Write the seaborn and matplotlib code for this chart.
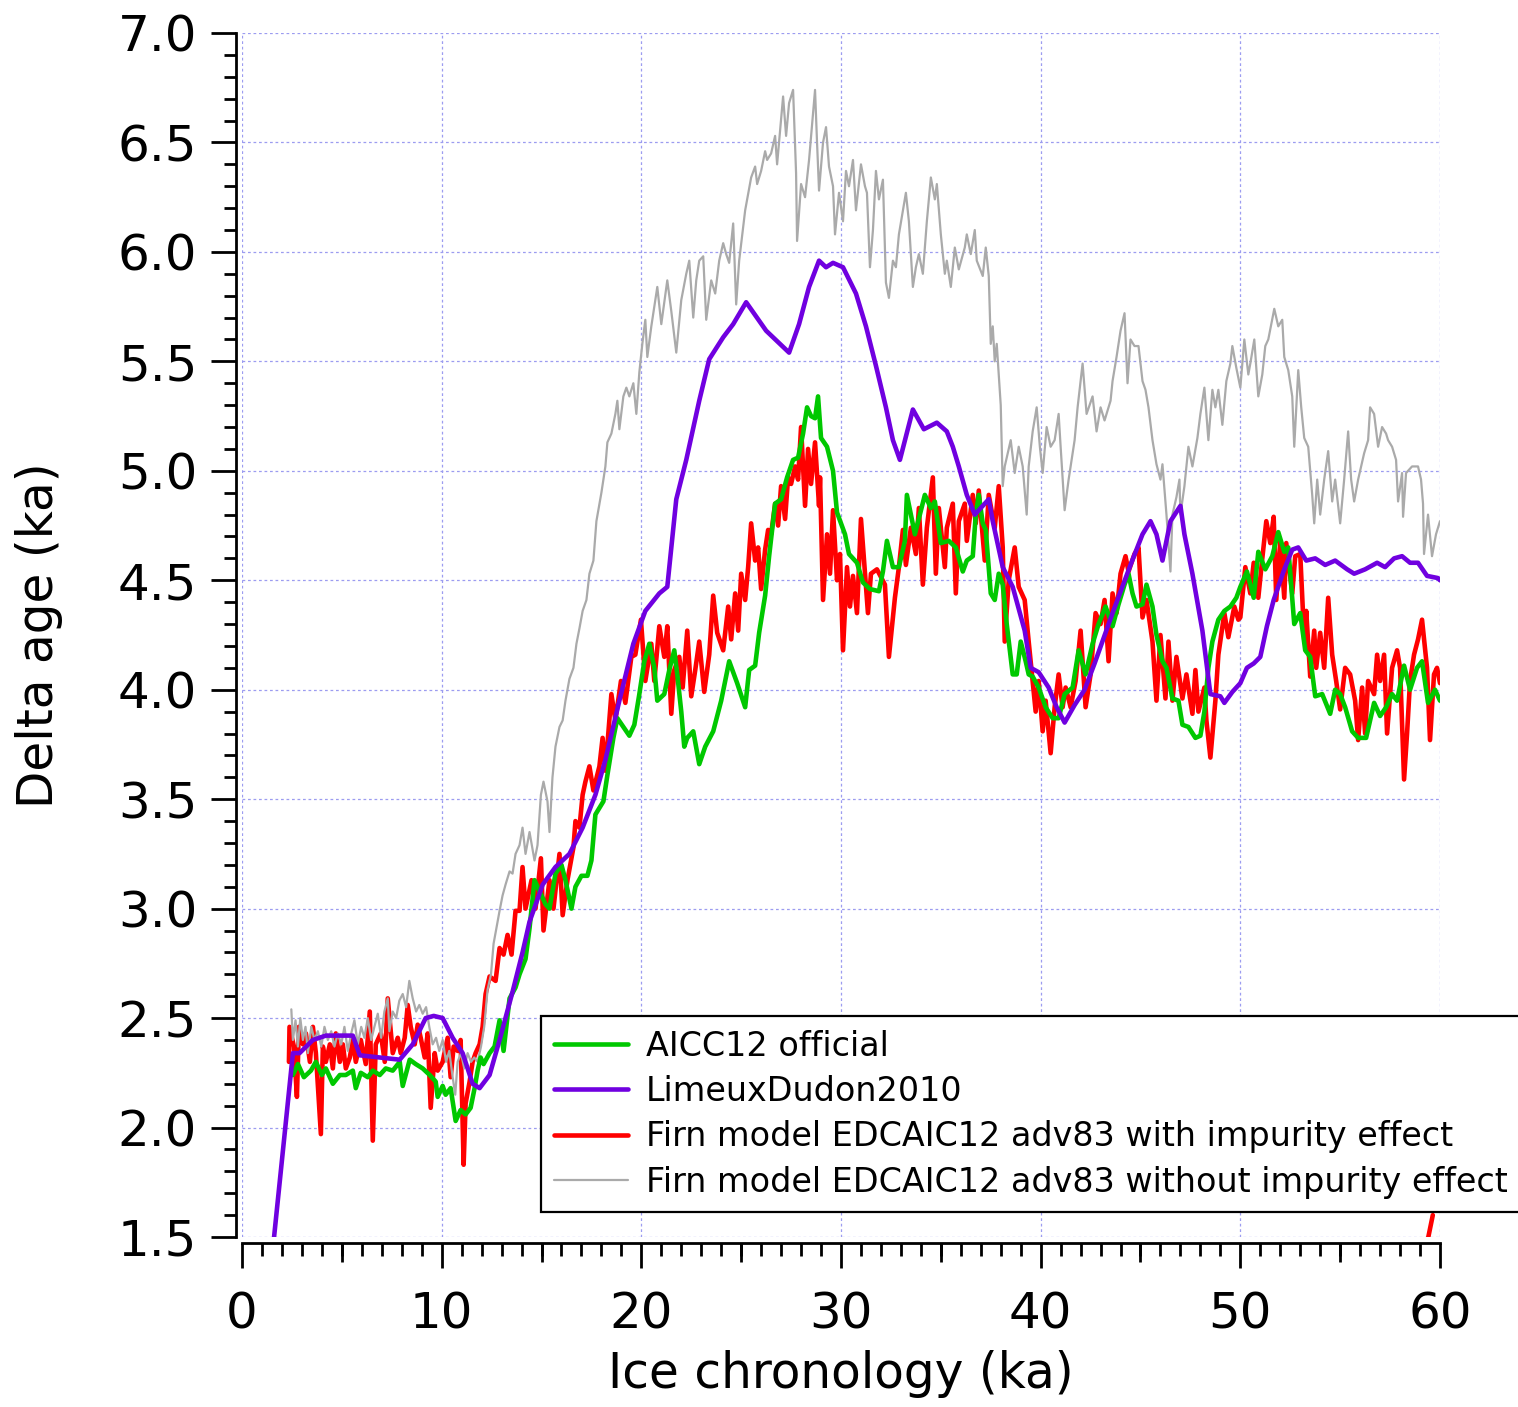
import numpy as np
import pandas as pd
import matplotlib
matplotlib.use("Agg")
import matplotlib.pyplot as plt
from matplotlib.ticker import MultipleLocator, FixedLocator
import seaborn as sns

# ---------------- data ----------------
green_x = [2.55, 2.8, 3.1, 3.45, 3.7, 4.0, 4.2, 4.55, 4.9, 5.2, 5.55, 5.7, 5.95, 6.3, 6.55, 6.9, 7.2, 7.55, 7.9, 8.05,
           8.4, 8.7, 9.05, 9.4, 9.7, 9.8, 10.05, 10.2, 10.45, 10.7, 10.95, 11.2, 11.45, 11.65, 11.8, 11.95, 12.1, 12.4,
           12.65, 12.9, 13.1, 13.4, 13.7, 13.9, 14.2, 14.4, 14.65, 14.9, 15.2, 15.4, 15.7, 16.0, 16.2, 16.5, 16.7, 17.0,
           17.3, 17.5, 17.7, 18.1, 18.3, 18.6, 18.8, 19.1, 19.4, 19.65, 19.9, 20.15, 20.4, 20.65, 20.8, 21.15, 21.4,
           21.65, 21.8, 22.0, 22.15, 22.3, 22.6, 22.9, 23.2, 23.6, 24.0, 24.4, 24.8, 25.2, 25.4, 25.7, 25.9, 26.2, 26.4,
           26.7, 27.0, 27.3, 27.6, 27.85, 28.1, 28.3, 28.5, 28.7, 28.85, 29.0, 29.3, 29.6, 29.8, 30.0, 30.2, 30.4, 30.8,
           31.1, 31.45, 31.9, 32.1, 32.3, 32.6, 32.9, 33.2, 33.3, 33.7, 34.2, 34.5, 34.7, 35.0, 35.4, 35.75, 36.1, 36.3,
           36.6, 36.75, 36.9, 37.1, 37.25, 37.5, 37.7, 37.9, 38.1, 38.3, 38.6, 38.8, 39.0, 39.25, 39.4, 39.6, 39.9,
           40.25, 40.6, 40.9, 41.2, 41.6, 41.9, 42.25, 42.6, 42.9, 43.25, 43.6, 43.9, 44.2, 44.4, 44.6, 44.8, 45.1,
           45.3, 45.6, 45.8, 46.1, 46.3, 46.6, 46.9, 47.1, 47.4, 47.75, 48.0, 48.2, 48.4, 48.6, 48.9, 49.2, 49.5, 49.8,
           50.0, 50.33, 50.67, 50.9, 51.25, 51.6, 51.9, 52.2, 52.4, 52.7, 53.0, 53.25, 53.5, 53.75, 54.1, 54.5, 54.75,
           55.0, 55.25, 55.6, 55.9, 56.3, 56.7, 57.0, 57.3, 57.6, 57.85, 58.2, 58.5, 58.85, 59.1, 59.4, 59.75, 60.0]
green_y = [2.24, 2.29, 2.23, 2.26, 2.30, 2.24, 2.27, 2.20, 2.24, 2.24, 2.26, 2.18, 2.25, 2.23, 2.26, 2.24, 2.27, 2.26,
           2.30, 2.19, 2.31, 2.29, 2.27, 2.24, 2.21, 2.14, 2.19, 2.15, 2.18, 2.03, 2.08, 2.06, 2.09, 2.18, 2.26, 2.32,
           2.29, 2.34, 2.37, 2.49, 2.35, 2.59, 2.64, 2.70, 2.77, 2.91, 3.13, 3.08, 3.02, 3.00, 3.16, 3.20, 3.13, 3.00,
           3.10, 3.15, 3.15, 3.22, 3.43, 3.49, 3.61, 3.78, 3.87, 3.83, 3.79, 3.84, 3.98, 4.13, 4.21, 4.10, 3.95, 3.98,
           4.09, 4.18, 4.07, 3.90, 3.74, 3.78, 3.81, 3.66, 3.74, 3.81, 3.95, 4.13, 4.03, 3.92, 4.09, 4.11, 4.26, 4.43,
           4.61, 4.85, 4.87, 4.97, 5.05, 5.06, 5.17, 5.29, 5.25, 5.24, 5.34, 5.15, 5.11, 5.00, 4.81, 4.76, 4.71, 4.62,
           4.58, 4.49, 4.46, 4.45, 4.54, 4.68, 4.56, 4.56, 4.68, 4.89, 4.71, 4.89, 4.83, 4.86, 4.67, 4.68, 4.65, 4.54,
           4.59, 4.61, 4.80, 4.89, 4.76, 4.73, 4.44, 4.41, 4.53, 4.48, 4.30, 4.07, 4.07, 4.22, 4.13, 4.07, 4.06, 4.01,
           3.92, 3.87, 3.87, 3.98, 4.01, 4.18, 4.07, 4.21, 4.30, 4.38, 4.29, 4.39, 4.48, 4.53, 4.44, 4.38, 4.39, 4.48,
           4.38, 4.25, 4.13, 4.10, 3.96, 3.95, 3.84, 3.83, 3.78, 3.79, 3.90, 4.10, 4.22, 4.32, 4.36, 4.38, 4.42,
           4.47, 4.54, 4.42, 4.63, 4.55, 4.61, 4.72, 4.63, 4.65, 4.30, 4.35, 4.18, 4.15, 3.97, 3.98, 3.89, 4.00,
           3.98, 3.92, 3.81, 3.78, 3.78, 3.94, 3.88, 3.92, 3.98, 3.95, 4.11, 4.00, 4.10, 4.13, 3.94, 4.00, 3.95]

purple_x = [1.55, 2.55, 2.88, 3.55, 4.2, 5.55, 5.9, 7.9, 8.55, 9.2, 9.6, 10.05, 10.55, 11.05, 11.55, 11.9, 12.4, 12.9,
            13.55, 14.05, 14.4, 15.06, 15.7, 16.4, 17.06, 17.7, 18.2, 18.9, 19.6, 20.2, 20.9, 21.3, 21.75, 22.25, 22.9,
            23.4, 24.1, 24.6, 25.25, 26.25, 27.4, 27.9, 28.4, 28.9, 29.25, 29.6, 30.1, 30.75, 31.25, 31.75, 32.25, 32.6,
            32.95, 33.6, 34.15, 34.8, 35.3, 35.6, 35.9, 36.3, 36.7, 37.4, 37.6, 38.1, 38.6, 39.2, 39.5, 39.9, 40.4, 40.8,
            41.2, 41.7, 42.2, 42.7, 43.6, 44.5, 45.1, 45.5, 45.8, 46.1, 46.5, 47.0, 47.2, 47.6, 48.1, 48.5, 49.0, 49.2,
            49.6, 50.0, 50.33, 50.67, 51.0, 51.33, 51.67, 52.2, 52.6, 52.9, 53.3, 53.75, 54.25, 54.75, 55.35, 55.7,
            56.25, 56.85, 57.25, 57.7, 58.1, 58.5, 58.9, 59.35, 59.9, 60.0]
purple_y = [1.45, 2.34, 2.34, 2.40, 2.42, 2.42, 2.33, 2.31, 2.38, 2.50, 2.51, 2.50, 2.41, 2.34, 2.20, 2.18, 2.24, 2.40,
            2.62, 2.80, 2.94, 3.11, 3.19, 3.25, 3.37, 3.52, 3.68, 3.95, 4.21, 4.36, 4.44, 4.47, 4.87, 5.05, 5.32, 5.51,
            5.61, 5.67, 5.77, 5.64, 5.54, 5.67, 5.84, 5.96, 5.93, 5.95, 5.93, 5.81, 5.66, 5.48, 5.29, 5.14, 5.05, 5.28,
            5.19, 5.22, 5.18, 5.11, 5.02, 4.89, 4.80, 4.87, 4.77, 4.56, 4.47, 4.27, 4.10, 4.08, 4.01, 3.92, 3.85, 3.93,
            4.00, 4.12, 4.35, 4.57, 4.71, 4.77, 4.71, 4.59, 4.77, 4.84, 4.71, 4.53, 4.27, 3.98, 3.97, 3.94, 3.99, 4.03,
            4.10, 4.12, 4.15, 4.29, 4.41, 4.55, 4.64, 4.65, 4.59, 4.60, 4.57, 4.59, 4.55, 4.53, 4.55, 4.58, 4.56, 4.60,
            4.61, 4.58, 4.58, 4.52, 4.51, 4.50]

red_x = [2.35, 2.38, 2.6, 2.75, 2.85, 3.05, 3.2, 3.4, 3.55, 3.7, 3.95, 4.05, 4.2, 4.4, 4.55, 4.7, 4.9, 5.05, 5.2, 5.4,
         5.55, 5.7, 5.95, 6.2, 6.4, 6.55, 6.7, 6.95, 7.15, 7.3, 7.55, 7.8, 7.95, 8.15, 8.3, 8.45, 8.65, 8.8, 8.95, 9.15,
         9.3, 9.45, 9.65, 9.8, 10.05, 10.3, 10.45, 10.6, 10.8, 10.95, 11.1, 11.2, 11.4, 11.55, 11.7, 11.9, 12.05, 12.2,
         12.4, 12.7, 12.9, 13.1, 13.3, 13.5, 13.7, 13.9, 14.05, 14.2, 14.5, 14.7, 14.97, 15.1, 15.4, 15.6, 15.9, 16.06,
         16.3, 16.6, 16.7, 16.9, 17.06, 17.2, 17.4, 17.6, 17.9, 18.06, 18.2, 18.5, 18.7, 18.98, 19.2, 19.5, 19.7, 19.98,
         20.2, 20.5, 20.65, 20.9, 21.15, 21.3, 21.5, 21.65, 21.9, 22.07, 22.3, 22.5, 22.7, 22.9, 23.15, 23.4, 23.6, 23.8,
         24.1, 24.35, 24.5, 24.7, 24.85, 25.0, 25.2, 25.35, 25.5, 25.7, 25.85, 26.0, 26.2, 26.35, 26.5, 26.7, 26.85,
         27.0, 27.2, 27.35, 27.5, 27.7, 27.85, 28.0, 28.2, 28.35, 28.5, 28.7, 28.9, 28.95, 29.1, 29.3, 29.45, 29.6,
         29.8, 29.95, 30.1, 30.3, 30.45, 30.6, 30.8, 31.0, 31.35, 31.5, 31.8, 32.2, 32.4, 32.7, 32.9, 33.1, 33.25,
         33.5, 33.75, 33.9, 34.1, 34.3, 34.6, 34.75, 34.9, 35.2, 35.3, 35.6, 35.75, 35.9, 36.2, 36.3, 36.6, 36.75,
         36.9, 37.2, 37.4, 37.7, 37.9, 38.1, 38.2, 38.4, 38.7, 38.9, 39.2, 39.4, 39.6, 39.75, 39.9, 40.1, 40.25, 40.5,
         40.7, 40.9, 41.1, 41.25, 41.5, 41.75, 42.0, 42.25, 42.5, 42.75, 43.0, 43.2, 43.4, 43.6, 43.8, 44.0, 44.25,
         44.4, 44.7, 44.9, 45.1, 45.3, 45.6, 45.8, 46.0, 46.25, 46.4, 46.6, 46.8, 47.1, 47.3, 47.6, 47.75, 47.9, 48.2,
         48.3, 48.5, 48.75, 48.9, 49.2, 49.4, 49.7, 49.9, 50.0, 50.25, 50.5, 50.67, 50.9, 51.1, 51.3, 51.5, 51.67,
         51.8, 52.0, 52.2, 52.3, 52.6, 52.75, 53.0, 53.2, 53.3, 53.5, 53.7, 53.8, 54.0, 54.2, 54.4, 54.6, 54.8, 55.0,
         55.25, 55.5, 55.75, 55.9, 56.1, 56.25, 56.4, 56.7, 56.85, 57.0, 57.2, 57.35, 57.6, 57.85, 58.0, 58.2, 58.35,
         58.5, 58.7, 58.9, 59.1, 59.35, 59.5, 59.7, 59.85, 60.0]
red_y = [2.30, 2.46, 2.37, 2.14, 2.46, 2.38, 2.43, 2.30, 2.46, 2.34, 1.97, 2.37, 2.30, 2.38, 2.27, 2.43, 2.30, 2.38,
         2.27, 2.32, 2.40, 2.30, 2.40, 2.29, 2.53, 1.94, 2.38, 2.43, 2.30, 2.59, 2.34, 2.41, 2.34, 2.41, 2.56, 2.46,
         2.38, 2.47, 2.41, 2.32, 2.43, 2.09, 2.34, 2.26, 2.30, 2.41, 2.23, 2.37, 2.35, 2.40, 1.83, 2.11, 2.21, 2.30,
         2.34, 2.38, 2.46, 2.61, 2.69, 2.67, 2.82, 2.79, 2.88, 2.79, 2.99, 2.99, 3.19, 3.00, 3.13, 3.00, 3.23, 2.90,
         3.13, 3.00, 3.25, 2.97, 3.13, 3.28, 3.40, 3.37, 3.52, 3.58, 3.65, 3.54, 3.65, 3.78, 3.63, 3.98, 3.86, 4.04,
         3.94, 4.15, 4.16, 4.32, 4.04, 4.21, 4.04, 4.29, 4.15, 4.29, 3.89, 4.09, 4.15, 4.01, 4.27, 3.97, 4.09, 4.22,
         3.99, 4.16, 4.43, 4.26, 4.18, 4.38, 4.23, 4.44, 4.27, 4.53, 4.41, 4.56, 4.76, 4.59, 4.65, 4.46, 4.64, 4.73,
         4.71, 4.85, 4.75, 4.93, 4.78, 4.97, 4.94, 5.02, 4.96, 5.20, 4.84, 5.10, 4.94, 5.13, 4.84, 4.97, 4.41, 4.71,
         4.53, 4.82, 4.50, 4.62, 4.18, 4.56, 4.38, 4.52, 4.35, 4.78, 4.35, 4.53, 4.55, 4.48, 4.15, 4.42, 4.56, 4.73,
         4.57, 4.74, 4.62, 4.83, 4.48, 4.74, 4.97, 4.53, 4.83, 4.56, 4.74, 4.85, 4.44, 4.77, 4.85, 4.68, 4.89, 4.76,
         4.91, 4.59, 4.89, 4.74, 4.93, 4.65, 4.22, 4.50, 4.65, 4.47, 4.41, 4.22, 4.04, 3.90, 4.04, 3.81, 3.95, 3.71,
         3.92, 4.07, 3.92, 4.01, 3.92, 4.04, 4.27, 3.92, 4.07, 4.35, 4.30, 4.41, 4.13, 4.44, 4.35, 4.53, 4.61, 4.54,
         4.62, 4.65, 4.33, 4.41, 4.22, 3.95, 4.25, 3.96, 4.22, 3.95, 4.15, 3.96, 4.07, 3.89, 4.09, 3.90, 4.01, 3.86,
         3.69, 3.95, 4.16, 4.35, 4.24, 4.38, 4.32, 4.33, 4.56, 4.44, 4.58, 4.42, 4.60, 4.77, 4.67, 4.79, 4.41, 4.68,
         4.42, 4.67, 4.44, 4.61, 4.62, 4.23, 4.36, 4.06, 4.27, 4.10, 4.26, 4.10, 4.42, 4.16, 4.04, 3.91, 4.10, 4.07,
         3.95, 3.77, 4.01, 3.80, 4.04, 3.98, 4.16, 4.04, 4.16, 3.80, 4.10, 4.18, 4.10, 3.59, 3.80, 4.04, 4.16, 4.23,
         4.32, 4.10, 3.77, 4.07, 4.10, 4.03]
red_tail_x = [59.37, 59.64]
red_tail_y = [1.48, 1.60]

gray_x = [2.47, 2.55, 2.68, 2.8, 2.92, 3.05, 3.18, 3.3, 3.47, 3.63, 3.8, 3.97, 4.13, 4.3, 4.47, 4.63, 4.8, 4.97, 5.13,
          5.3, 5.47, 5.63, 5.8, 5.97, 6.13, 6.3, 6.47, 6.63, 6.8, 6.97, 7.13, 7.3, 7.38, 7.55, 7.72, 7.88, 8.05, 8.22,
          8.38, 8.55, 8.72, 8.88, 9.05, 9.22, 9.38, 9.55, 9.72, 9.88, 10.05, 10.22, 10.38, 10.55, 10.68, 10.8, 10.97,
          11.13, 11.3, 11.47, 11.63, 11.8, 11.97, 12.13, 12.3, 12.47, 12.6, 12.9, 13.05, 13.2, 13.4, 13.55, 13.7, 13.9,
          14.05, 14.2, 14.4, 14.65, 14.8, 14.97, 15.1, 15.3, 15.4, 15.55, 15.7, 15.9, 16.06, 16.2, 16.4, 16.6, 16.75,
          16.9, 17.06, 17.25, 17.4, 17.6, 17.75, 18.0, 18.2, 18.3, 18.5, 18.7, 18.8, 18.9, 19.1, 19.25, 19.4, 19.6,
          19.75, 19.9, 20.05, 20.2, 20.3, 20.5, 20.8, 21.0, 21.3, 21.5, 21.75, 22.0, 22.25, 22.4, 22.6, 22.75, 22.9,
          23.1, 23.25, 23.5, 23.7, 23.9, 24.1, 24.25, 24.4, 24.6, 24.75, 24.9, 25.2, 25.3, 25.5, 25.7, 25.8, 26.0, 26.2,
          26.3, 26.5, 26.7, 26.8, 27.1, 27.25, 27.4, 27.6, 27.75, 27.8, 28.0, 28.2, 28.4, 28.7, 28.8, 28.9, 29.1, 29.25,
          29.4, 29.6, 29.7, 29.9, 30.1, 30.25, 30.4, 30.6, 30.75, 31.0, 31.2, 31.3, 31.45, 31.6, 31.75, 31.9, 32.1,
          32.25, 32.4, 32.6, 32.75, 32.9, 33.1, 33.25, 33.4, 33.6, 33.75, 33.9, 34.1, 34.3, 34.5, 34.7, 34.8, 35.0,
          35.2, 35.3, 35.5, 35.7, 35.9, 36.2, 36.3, 36.5, 36.7, 36.8, 37.1, 37.25, 37.4, 37.5, 37.6, 37.7, 37.8, 38.0,
          38.1, 38.2, 38.35, 38.5, 38.7, 38.9, 39.1, 39.3, 39.4, 39.6, 39.8, 39.96, 40.1, 40.3, 40.5, 40.7, 40.9, 41.0,
          41.2, 41.4, 41.7, 41.85, 42.1, 42.3, 42.6, 42.8, 43.0, 43.2, 43.5, 43.6, 43.8, 44.0, 44.2, 44.35, 44.5, 44.7,
          44.9, 45.1, 45.25, 45.4, 45.6, 45.8, 46.0, 46.1, 46.3, 46.5, 46.6, 46.8, 46.95, 47.0, 47.2, 47.4, 47.6, 47.85,
          48.0, 48.2, 48.4, 48.6, 48.75, 48.9, 49.1, 49.3, 49.5, 49.6, 49.8, 50.0, 50.2, 50.4, 50.5, 50.7, 50.9, 51.1,
          51.25, 51.4, 51.7, 51.9, 52.1, 52.2, 52.4, 52.6, 52.7, 52.9, 53.05, 53.2, 53.4, 53.6, 53.7, 53.85, 54.0, 54.2,
          54.4, 54.6, 54.75, 55.0, 55.2, 55.4, 55.55, 55.7, 55.9, 56.2, 56.4, 56.5, 56.7, 56.9, 57.1, 57.3, 57.4, 57.6,
          57.8, 57.9, 58.1, 58.15, 58.3, 58.6, 58.9, 59.05, 59.15, 59.2, 59.4, 59.6, 59.8, 60.0]
gray_y = [2.54, 2.40, 2.49, 2.37, 2.50, 2.40, 2.46, 2.34, 2.46, 2.40, 2.44, 2.37, 2.46, 2.40, 2.44, 2.37, 2.43, 2.38,
          2.46, 2.35, 2.43, 2.49, 2.38, 2.46, 2.41, 2.50, 2.40, 2.46, 2.52, 2.41, 2.53, 2.59, 2.44, 2.53, 2.50, 2.58,
          2.61, 2.55, 2.67, 2.59, 2.53, 2.56, 2.52, 2.55, 2.46, 2.38, 2.41, 2.35, 2.40, 2.30, 2.35, 2.23, 2.15, 2.30,
          2.34, 2.27, 2.34, 2.30, 2.32, 2.30, 2.37, 2.46, 2.63, 2.70, 2.84, 2.99, 3.06, 3.11, 3.17, 3.16, 3.25, 3.29,
          3.37, 3.25, 3.35, 3.22, 3.29, 3.52, 3.58, 3.49, 3.35, 3.60, 3.74, 3.83, 3.86, 3.95, 4.05, 4.10, 4.21, 4.28,
          4.36, 4.41, 4.53, 4.59, 4.77, 4.90, 5.02, 5.13, 5.17, 5.26, 5.32, 5.19, 5.34, 5.38, 5.34, 5.40, 5.26, 5.45,
          5.58, 5.69, 5.52, 5.66, 5.84, 5.67, 5.87, 5.73, 5.54, 5.78, 5.90, 5.96, 5.70, 5.87, 5.96, 5.98, 5.69, 5.87,
          5.81, 5.96, 6.04, 5.99, 5.95, 6.13, 5.76, 5.96, 6.19, 6.24, 6.34, 6.39, 6.31, 6.37, 6.46, 6.42, 6.45, 6.53,
          6.40, 6.71, 6.53, 6.68, 6.74, 6.36, 6.05, 6.31, 6.25, 6.42, 6.74, 6.50, 6.28, 6.50, 6.57, 6.39, 6.30, 6.08,
          6.27, 6.14, 6.37, 6.30, 6.42, 6.19, 6.40, 6.30, 6.27, 5.93, 6.10, 6.37, 6.24, 6.33, 5.86, 5.79, 5.96, 5.93,
          6.08, 6.19, 6.27, 6.14, 5.84, 5.93, 5.99, 5.90, 6.14, 6.34, 6.24, 6.31, 6.08, 5.90, 5.96, 5.84, 6.02, 5.92,
          6.02, 6.08, 5.99, 6.10, 5.96, 5.89, 6.02, 5.89, 5.58, 5.66, 5.50, 5.58, 5.30, 4.93, 5.02, 5.08, 5.14, 4.99,
          5.11, 5.02, 4.80, 5.02, 5.18, 5.29, 5.11, 4.99, 5.20, 5.11, 5.14, 5.26, 5.11, 4.82, 4.96, 5.14, 5.29, 5.49,
          5.26, 5.34, 5.18, 5.29, 5.23, 5.32, 5.41, 5.52, 5.64, 5.72, 5.40, 5.60, 5.57, 5.57, 5.41, 5.37, 5.29, 5.14,
          5.03, 4.96, 5.03, 4.80, 4.54, 4.80, 4.88, 4.96, 4.80, 4.93, 5.11, 5.02, 5.15, 5.26, 5.38, 5.14, 5.37, 5.29,
          5.37, 5.21, 5.41, 5.49, 5.57, 5.47, 5.38, 5.60, 5.44, 5.49, 5.60, 5.34, 5.44, 5.57, 5.60, 5.74, 5.66, 5.69,
          5.52, 5.46, 5.34, 5.11, 5.46, 5.29, 5.15, 5.11, 4.89, 4.76, 4.96, 4.80, 4.96, 5.09, 4.86, 4.96, 4.76, 4.96,
          5.18, 4.96, 4.86, 4.96, 5.08, 5.14, 5.29, 5.26, 5.11, 5.20, 5.17, 5.14, 5.11, 5.05, 4.86, 4.99, 4.79, 4.99,
          5.02, 5.02, 4.96, 4.85, 4.62, 4.80, 4.61, 4.71, 4.77]

labels = ["AICC12 official", "LimeuxDudon2010",
          "Firn model EDCAIC12 adv83 with impurity effect",
          "Firn model EDCAIC12 adv83 without impurity effect"]
x_ticks = [0, 10, 20, 30, 40, 50, 60]
y_ticks = [1.5, 2.0, 2.5, 3.0, 3.5, 4.0, 4.5, 5.0, 5.5, 6.0, 6.5, 7.0]
xlabel = "Ice chronology (ka)"
ylabel = "Delta age (ka)"

# ---------------- styling ----------------
sns.set_style("ticks")
plt.rcParams["font.family"] = ["DejaVu Sans"]
for key in ["text.color", "axes.labelcolor", "xtick.color", "ytick.color", "axes.edgecolor"]:
    plt.rcParams[key] = "black"

c_green = "#00c800"
c_purple = "#7000e0"
c_red = "#ff0000"
c_gray = "#aaaaaa"

fig = plt.figure(figsize=(15.18, 14.07), dpi=100)
ax = fig.add_axes([242 / 1518, 1 - 1237 / 1407, (1440 - 242) / 1518, (1237 - 33) / 1407])

df_r = pd.DataFrame({"x": red_x, "y": red_y})
df_g = pd.DataFrame({"x": gray_x, "y": gray_y})
df_gr = pd.DataFrame({"x": green_x, "y": green_y})
df_p = pd.DataFrame({"x": purple_x, "y": purple_y})
df_t = pd.DataFrame({"x": red_tail_x, "y": red_tail_y})

LW = 3.3
sns.lineplot(data=df_r, x="x", y="y", color=c_red, lw=LW, estimator=None, sort=False,
             ax=ax, label=labels[2], zorder=2)
sns.lineplot(data=df_t, x="x", y="y", color=c_red, lw=LW, estimator=None, sort=False,
             ax=ax, legend=False, zorder=2)
sns.lineplot(data=df_g, x="x", y="y", color=c_gray, lw=1.6, estimator=None, sort=False,
             ax=ax, label=labels[3], zorder=3)
sns.lineplot(data=df_gr, x="x", y="y", color=c_green, lw=LW, estimator=None, sort=False,
             ax=ax, label=labels[0], zorder=4)
sns.lineplot(data=df_p, x="x", y="y", color=c_purple, lw=LW, estimator=None, sort=False,
             ax=ax, label=labels[1], zorder=5)

ax.set_xlim(0, 60)
ax.set_ylim(1.5, 7.0)

# spines
for s in ["top", "right"]:
    ax.spines[s].set_visible(False)
for s in ["left", "bottom"]:
    ax.spines[s].set_position(("outward", 4.3))
    ax.spines[s].set_linewidth(2.0)
    ax.spines[s].set_color("black")

ax.set_xticks(x_ticks)
ax.set_yticks(y_ticks)
ax.set_yticklabels([f"{v:.1f}" for v in y_ticks])
ax.xaxis.set_minor_locator(MultipleLocator(1))
ax.yaxis.set_minor_locator(MultipleLocator(0.1))
ax.tick_params(axis="both", which="major", length=18, width=2.0, direction="out", labelsize=36,
               color="black", labelcolor="black")
ax.tick_params(axis="both", which="minor", length=9, width=2.0, direction="out", color="black")
ax.tick_params(axis="x", which="major", pad=16)
ax.tick_params(axis="y", which="major", pad=10)

ax.grid(True, which="major", color="#9c9cf0", linestyle=(0, (2.2, 2.2)), linewidth=0.9)
ax.set_axisbelow(True)

ax.set_xlabel(xlabel, fontsize=35, color="black")
ax.set_ylabel(ylabel, fontsize=35, color="black")
ax.xaxis.set_label_coords(0.5, -0.094)
ax.yaxis.set_label_coords(-0.149, 0.5)

# mid-length ticks at the 5 ka positions
ax2 = ax.twiny()
ax2.set_xlim(0, 60)
ax2.xaxis.set_ticks_position("bottom")
for s in ax2.spines.values():
    s.set_visible(False)
ax2.spines["bottom"].set_position(("outward", 4.3))
ax2.set_xticks([5, 15, 25, 35, 45, 55])
ax2.set_xticklabels([])
ax2.xaxis.set_minor_locator(FixedLocator([]))
ax2.tick_params(axis="x", which="major", length=13.5, width=2.0, direction="out", color="black")
ax2.patch.set_visible(False)
ax2.grid(False)

# legend
h, l = ax.get_legend_handles_labels()
order = [l.index(t) for t in labels]
leg = ax.legend([h[i] for i in order], [l[i] for i in order],
                loc="lower left", bbox_to_anchor=(0.2496, 0.0208), bbox_transform=ax.transAxes,
                borderaxespad=0, fontsize=24, frameon=True, fancybox=False, framealpha=1,
                edgecolor="black", handlelength=2.2, handletextpad=0.55, borderpad=0.4,
                labelspacing=0.37)
leg.get_frame().set_linewidth(1.6)
leg.set_zorder(10)
for t in leg.get_texts():
    t.set_color("black")

fig.savefig("out.png", dpi=100)
